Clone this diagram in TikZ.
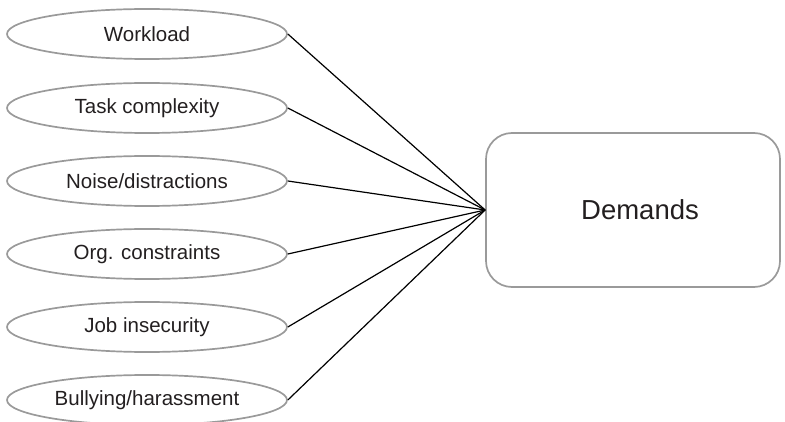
\documentclass[tikz,border=0pt]{standalone}
\usepackage{fontspec}
\setmainfont{Liberation Sans}
\usetikzlibrary{shapes.geometric}
\definecolor{edgegray}{HTML}{9A9A9A}
\definecolor{txt}{HTML}{231F20}
\tikzset{
  factor/.style={ellipse, draw=edgegray, line width=1.7pt, minimum width=280pt, minimum height=50pt, inner sep=0pt, text=txt, font=\fontsize{20.5pt}{24pt}\selectfont},
  target/.style={rectangle, rounded corners=26pt, draw=edgegray, line width=1.7pt, minimum width=294pt, minimum height=154pt, text=txt, font=\fontsize{27.5pt}{32pt}\selectfont},
  link/.style={draw=black, line width=1.2pt}
}
\begin{document}
\begin{tikzpicture}[x=1pt,y=-1pt]
\useasboundingbox (0,0) rectangle (785,422);
\node[factor] (w) at (147,34) {Workload};
\node[factor] (t) at (147,108) {Task complexity};
\node[factor] (n) at (147,181) {Noise/distractions};
\node[factor] (o) at (147,254) {Org. constraints};
\node[factor] (j) at (147,327) {Job insecurity};
\node[factor] (b) at (147,400) {Bullying/harassment};
\node[target] (d) at (633,210) {\hspace{14pt}Demands};
\foreach \s in {w,t,n,o,j,b} \draw[link] (\s.east) -- (d.west);
\end{tikzpicture}
\end{document}
